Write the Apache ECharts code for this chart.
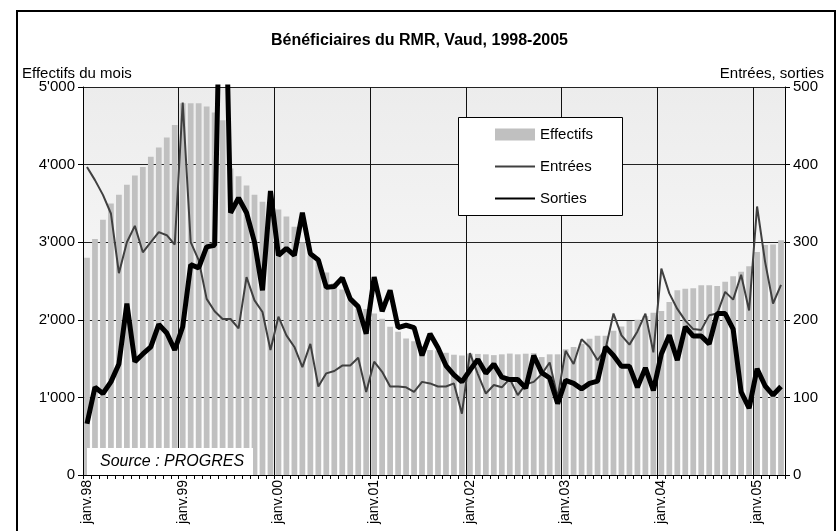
<!DOCTYPE html>
<html>
<head>
<meta charset="utf-8">
<script src="https://cdn.jsdelivr.net/npm/echarts@6/dist/echarts.min.js"></script>
<style>
html,body{margin:0;padding:0;background:#fff;}
#chart{width:839px;height:531px;}
</style>
</head>
<body>
<div id="chart"></div>
<script>
// ---- data ----
const monthNames = ['janv.','févr.','mars.','avr.','mai.','juin.','juil.','août.','sept.','oct.','nov.','déc.'];
const years = ['98','99','00','01','02','03','04','05'];
const monthCount = 88;

const effectifs = [
  2800,3040,3290,3500,3610,3740,3860,3970,4100,4220,4350,4510,
  4790,4790,4790,4750,4670,4570,3950,3850,3730,3610,3520,3450,
  3420,3330,3200,3000,2830,2760,2610,2470,2390,2250,2150,2140,
  2080,2015,1910,1845,1760,1725,1660,1610,1605,1575,1550,1540,
  1565,1560,1555,1545,1555,1565,1555,1563,1570,1520,1555,1555,
  1620,1650,1690,1755,1795,1795,1860,1915,1985,2000,2050,2090,
  2115,2230,2380,2400,2405,2445,2445,2435,2490,2560,2620,2690,
  2875,2965,2970,3025
];
const entrees = [
  397,380,361,337,260,300,321,287,300,313,309,297,
  480,300,277,227,211,201,201,189,255,225,210,161,
  204,180,165,139,169,114,131,134,141,141,151,107,
  146,133,114,114,113,107,120,118,114,114,118,79,
  157,130,105,116,113,124,103,117,120,130,145,100,
  160,143,175,165,148,162,208,180,168,185,208,158,
  266,234,214,199,188,187,206,208,236,226,258,212,
  346,275,221,245
];
const sorties = [
  66,113,105,120,143,221,146,156,165,194,183,161,
  191,271,267,294,296,800,338,357,338,300,238,366,
  283,292,283,338,285,277,242,243,254,227,217,182,
  255,211,238,190,193,190,154,182,164,141,129,120,
  135,149,131,143,126,123,123,112,154,132,125,92,
  122,118,111,118,121,165,154,140,140,113,138,109,
  156,180,148,191,179,179,169,208,208,188,107,86,
  137,115,103,114
];
const leftTicks = {min:0, max:5000, interval:1000};
const rightTicks = {min:0, max:500, interval:100};

const categories = [];
for (let i = 0; i < monthCount; i++) {
  categories.push(monthNames[i % 12] + years[Math.floor(i / 12)]);
}

function fmt(v) {
  if (v >= 1000) {
    return Math.floor(v / 1000) + "'" + String(v % 1000).padStart(3, '0');
  }
  return String(v);
}

const FONT = '"Liberation Sans", Arial, sans-serif';

const chart = echarts.init(document.getElementById('chart'), null, {renderer:'canvas'});
chart.setOption({
  animation: false,
  backgroundColor: '#ffffff',
  textStyle: {fontFamily: FONT},
  title: {
    text: 'Bénéficiaires du RMR, Vaud, 1998-2005',
    left: 'center',
    top: 28,
    textStyle: {fontFamily: FONT, fontWeight: 'bold', fontSize: 16, color: '#000'}
  },
  grid: {
    left: 83, top: 87, width: 702, height: 388,
    show: true, borderWidth: 0,
    backgroundColor: new echarts.graphic.LinearGradient(0, 0, 0, 1, [
      {offset: 0, color: '#ececec'},
      {offset: 1, color: '#ffffff'}
    ])
  },
  legend: {
    orient: 'vertical',
    left: 494, top: 127,
    padding: 0,
    itemWidth: 40, itemHeight: 12, itemGap: 17,
    textStyle: {fontFamily: FONT, fontSize: 15, color: '#000'},
    z: 10,
    data: [
      {name: 'Effectifs', icon: 'rect'},
      {name: 'Entrées', itemStyle: {opacity: 0}},
      {name: 'Sorties', itemStyle: {opacity: 0}}
    ]
  },
  xAxis: {
    type: 'category',
    data: categories,
    boundaryGap: true,
    axisLine: {lineStyle: {color: '#000', width: 1}},
    axisTick: {show: true, interval: 0, length: 4, lineStyle: {color: '#000'}},
    axisLabel: {interval: 11, rotate: 90, fontSize: 14, color: '#000', margin: 5, fontFamily: FONT},
    splitLine: {show: true, interval: 11, lineStyle: {color: '#111', width: 1}}
  },
  yAxis: [
    {
      type: 'value', min: leftTicks.min, max: leftTicks.max, interval: leftTicks.interval,
      position: 'left',
      axisLine: {show: true, lineStyle: {color: '#000', width: 1}},
      axisTick: {show: true, length: 5, lineStyle: {color: '#000'}},
      axisLabel: {formatter: fmt, fontSize: 15, color: '#000', margin: 8, fontFamily: FONT},
      splitLine: {show: true, lineStyle: {color: '#222', width: 1}}
    },
    {
      type: 'value', min: rightTicks.min, max: rightTicks.max, interval: rightTicks.interval,
      position: 'right',
      axisLine: {show: true, lineStyle: {color: '#000', width: 1}},
      axisTick: {show: true, length: 5, lineStyle: {color: '#000'}},
      axisLabel: {formatter: fmt, fontSize: 15, color: '#000', margin: 8, fontFamily: FONT},
      splitLine: {show: false}
    }
  ],
  series: [
    {
      name: 'Effectifs', type: 'bar', yAxisIndex: 0, data: effectifs,
      barCategoryGap: '28%',
      itemStyle: {color: '#c0c0c0'}
    },
    {
      name: 'Entrées', type: 'line', yAxisIndex: 1, data: entrees,
      symbol: 'none', clip: true,
      lineStyle: {color: '#404040', width: 2},
      itemStyle: {color: '#404040'}
    },
    {
      name: 'Sorties', type: 'line', yAxisIndex: 1, data: sorties,
      symbol: 'none', clip: true,
      lineStyle: {color: '#000', width: 5},
      itemStyle: {color: '#000'}
    }
  ],
  graphic: [
    {type: 'rect', z: 100, silent: true,
     shape: {x: 17, y: 11, width: 818, height: 540},
     style: {fill: 'none', stroke: '#000', lineWidth: 2}},
    {type: 'rect', z: 5,
     shape: {x: 458.5, y: 117.5, width: 164, height: 98},
     style: {fill: '#fff', stroke: '#000', lineWidth: 1}},
    {type: 'rect', z: 5,
     shape: {x: 87, y: 448, width: 166, height: 27},
     style: {fill: '#fff'}},
    {type: 'text', z: 6, left: 100, top: 454,
     style: {text: 'Source : PROGRES', font: 'italic 16px ' + FONT, fill: '#000'}},
    {type: 'text', z: 6, left: 22, top: 66,
     style: {text: 'Effectifs du mois', font: '15px ' + FONT, fill: '#000'}},
    {type: 'text', z: 6, right: 15, top: 66,
     style: {text: 'Entrées, sorties', font: '15px ' + FONT, fill: '#000'}}
  ]
});
</script>
</body>
</html>
